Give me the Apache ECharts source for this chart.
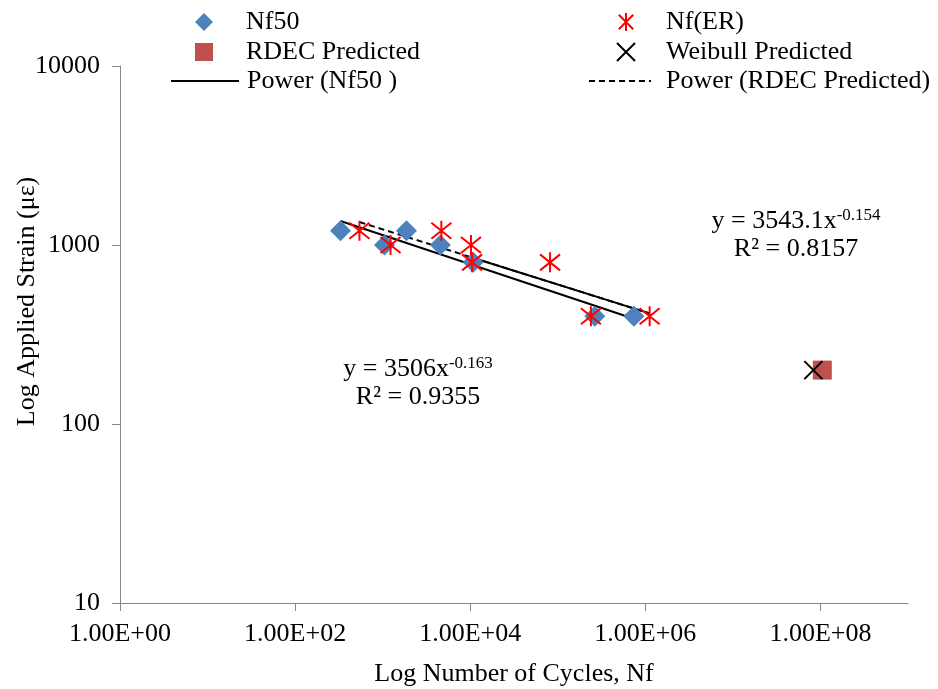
<!DOCTYPE html>
<html>
<head>
<meta charset="utf-8">
<script src="https://cdn.jsdelivr.net/npm/echarts@6/dist/echarts.min.js"></script>
<style>
html,body{margin:0;padding:0;background:#fff;}
#c{width:938px;height:689px;}
</style>
</head>
<body>
<div id="c"></div>
<script>
// ---- data ----
const nf50X = [330, 1050, 1870, 4560, 10800, 265000, 740000];
const nf50Y = [1200, 1000, 1200, 1000, 800, 400, 400];
const nfERX = [543, 1230, 4680, 10200, 10500, 81600, 239000, 1120000];
const nfERY = [1200, 1000, 1200, 1000, 800, 800, 400, 400];
const rdecX = [1.05e8];
const rdecY = [200];
const weibullX = [8.3e7];
const weibullY = [200];
// power trend equations (from the chart text)
const nf50Trend = { a: 3506, b: -0.163, r2: '0.9355' };
const rdecTrend = { a: 3543.1, b: -0.154, r2: '0.8157' };
const solidOverlayStart = 12600; // where the upper trend line is drawn solid
const xTickExponents = [0, 2, 4, 6, 8];
const yTickLabels = ['10', '100', '1000', '10000'];

const FONT = "'Liberation Serif','Times New Roman',serif";
const zip = (xs, ys) => xs.map((x, i) => [x, ys[i]]);
const powerLine = (t, x0, x1) => [[x0, t.a * Math.pow(x0, t.b)], [x1, t.a * Math.pow(x1, t.b)]];

const chart = echarts.init(document.getElementById('c'));
const starPath = 'path://M2,2L18,18M18,2L2,18M10,0L10,20';
const xPath = 'path://M0,0L20,20M20,0L0,20';

const legendText = pad => ({ fontFamily: FONT, fontSize: 26, lineHeight: 26, color: '#000', padding: [0, 0, 0, pad] });
const legendBase = { padding: 0, orient: 'vertical', itemGap: 4, selectedMode: false };

chart.setOption({
  animation: false,
  textStyle: { fontFamily: FONT, color: '#000' },
  grid: { left: 120, right: 30, top: 66, bottom: 86, outerBoundsMode: 'none', containLabel: false },
  legend: [
    Object.assign({}, legendBase, {
      left: 195, top: 9, itemWidth: 18, itemHeight: 18, textStyle: legendText(28),
      data: ['Nf50', 'RDEC Predicted']
    }),
    Object.assign({}, legendBase, {
      left: 170, top: 68, itemWidth: 68, itemHeight: 18, textStyle: legendText(3),
      data: ['Power (Nf50 )']
    }),
    Object.assign({}, legendBase, {
      left: 616, top: 9, itemWidth: 18, itemHeight: 18, textStyle: legendText(26),
      data: ['Nf(ER)', 'Weibull Predicted']
    }),
    Object.assign({}, legendBase, {
      left: 588, top: 68, itemWidth: 62, itemHeight: 18, textStyle: legendText(10),
      data: ['Power (RDEC Predicted)']
    })
  ],
  xAxis: {
    type: 'log', logBase: 10, min: 1, max: 1e9, interval: 2,
    name: 'Log Number of Cycles, Nf', nameLocation: 'middle', nameGap: 58,
    nameTextStyle: { fontFamily: FONT, fontSize: 26, color: '#000' },
    axisLine: { lineStyle: { color: '#868686', width: 1 } },
    axisTick: { length: 8, lineStyle: { color: '#868686' } },
    axisLabel: {
      fontFamily: FONT, fontSize: 26, color: '#000', margin: 18, showMaxLabel: false,
      formatter: v => {
        const e = Math.round(Math.log10(v));
        if (xTickExponents.indexOf(e) < 0) return '';
        return '1.00E' + (e >= 0 ? '+' : '-') + String(Math.abs(e)).padStart(2, '0');
      }
    },
    splitLine: { show: false }
  },
  yAxis: {
    type: 'log', logBase: 10, min: 10, max: 10000, interval: 1,
    name: 'Log Applied Strain (με)', nameLocation: 'middle', nameGap: 80, nameMoveOverlap: false,
    nameTextStyle: { fontFamily: FONT, fontSize: 26, color: '#000', padding: [0, 0, 0, 66] },
    axisLine: { show: true, lineStyle: { color: '#868686', width: 1 } },
    axisTick: { show: true, length: 8, lineStyle: { color: '#868686' } },
    axisLabel: {
      fontFamily: FONT, fontSize: 26, color: '#000', margin: 20,
      formatter: v => yTickLabels[Math.round(Math.log10(v)) - 1]
    },
    splitLine: { show: false }
  },
  series: [
    {
      name: 'Power (Nf50 )', type: 'line', symbol: 'none', silent: true,
      itemStyle: { color: 'rgba(0,0,0,0)' },
      lineStyle: { color: '#000', width: 2 },
      data: powerLine(nf50Trend, Math.min(...nf50X), Math.max(...nf50X)), z: 3
    },
    {
      name: 'Power (RDEC Predicted)', type: 'line', symbol: 'none', silent: true,
      itemStyle: { color: 'rgba(0,0,0,0)' },
      lineStyle: { color: '#000', width: 2, type: [6, 4] },
      data: powerLine(rdecTrend, Math.min(...nfERX), Math.max(...nfERX)), z: 3
    },
    {
      name: 'trend-overlay', type: 'line', symbol: 'none', silent: true,
      itemStyle: { color: 'rgba(0,0,0,0)' },
      lineStyle: { color: '#000', width: 2 },
      data: powerLine(rdecTrend, solidOverlayStart, Math.max(...nfERX)), z: 3
    },
    {
      name: 'Nf50', type: 'scatter', symbol: 'diamond', symbolSize: 21,
      itemStyle: { color: '#4F81BD', opacity: 1 }, data: zip(nf50X, nf50Y), z: 4
    },
    {
      name: 'Nf(ER)', type: 'scatter', symbol: starPath, symbolSize: 20,
      itemStyle: { color: 'rgba(0,0,0,0)', borderColor: '#FF0000', borderWidth: 2, opacity: 1 },
      data: zip(nfERX, nfERY), z: 5
    },
    {
      name: 'RDEC Predicted', type: 'scatter', symbol: 'rect', symbolSize: 19,
      itemStyle: { color: '#C0504D', opacity: 1 }, data: zip(rdecX, rdecY), z: 4
    },
    {
      name: 'Weibull Predicted', type: 'scatter', symbol: xPath, symbolSize: 18,
      itemStyle: { color: 'rgba(0,0,0,0)', borderColor: '#000', borderWidth: 2, opacity: 1 },
      data: zip(weibullX, weibullY), z: 5
    }
  ],
  graphic: [
    {
      type: 'text', x: 418, y: 383, z: 10,
      style: {
        text: '{a|y = ' + nf50Trend.a + 'x}{s|' + nf50Trend.b + '}\n{a|R² = ' + nf50Trend.r2 + '}',
        align: 'center', verticalAlign: 'middle',
        rich: {
          a: { fontFamily: FONT, fontSize: 26, lineHeight: 28, fill: '#000', align: 'center' },
          s: { fontFamily: FONT, fontSize: 17, lineHeight: 17, fill: '#000', verticalAlign: 'top' }
        }
      }
    },
    {
      type: 'text', x: 796, y: 235, z: 10,
      style: {
        text: '{a|y = ' + rdecTrend.a + 'x}{s|' + rdecTrend.b + '}\n{a|R² = ' + rdecTrend.r2 + '}',
        align: 'center', verticalAlign: 'middle',
        rich: {
          a: { fontFamily: FONT, fontSize: 26, lineHeight: 28, fill: '#000', align: 'center' },
          s: { fontFamily: FONT, fontSize: 17, lineHeight: 17, fill: '#000', verticalAlign: 'top' }
        }
      }
    }
  ]
});
</script>
</body>
</html>
